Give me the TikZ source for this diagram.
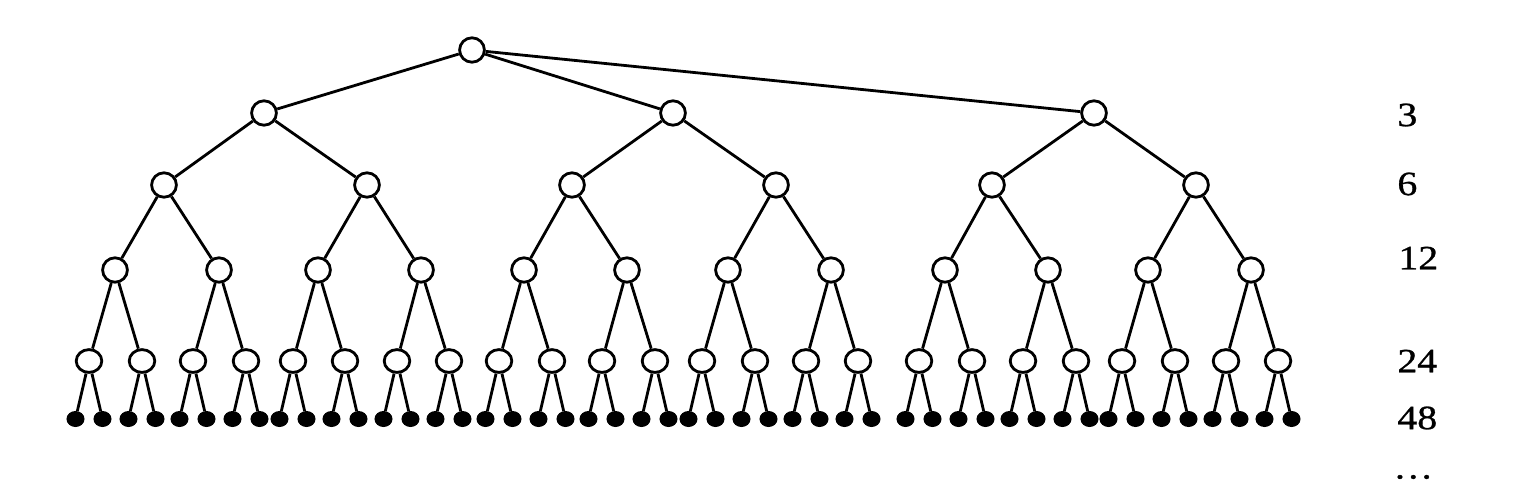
\documentclass[tikz,border=0pt]{standalone}
\usepackage{fontspec}
\setmainfont{Liberation Serif}
\newfontfamily\labfont[FakeBold=0.8]{Liberation Serif}
\usetikzlibrary{shapes.geometric}
\begin{document}
\begin{tikzpicture}[x=0.5pt,y=-0.5pt,
  inode/.style={ellipse,draw,line width=1.4pt,inner sep=0pt,minimum width=12.4pt,minimum height=12.2pt},
  lnode/.style={ellipse,draw,line width=1.4pt,inner sep=0pt,minimum width=12.8pt,minimum height=11.4pt},
  leaf/.style={ellipse,draw,fill=black,line width=1pt,inner sep=0pt,minimum width=8pt,minimum height=7pt},
  edge/.style={line width=1.4pt},
  lab/.style={anchor=west,inner sep=0pt,font=\labfont\fontsize{17}{20}\selectfont}]
\useasboundingbox (0,0) rectangle (1514,502);
% nodes
\node[inode] (r) at (472,50) {};
\foreach \x [count=\i] in {264,673,1094}
  \node[inode] (a\i) at (\x,113) {};
\foreach \x [count=\i] in {164,367,572,776,992,1196}
  \node[inode] (b\i) at (\x,185) {};
\foreach \x [count=\i] in {115,219,318,421,524,627,728,831,945,1048,1148,1251}
  \node[inode] (c\i) at (\x,270) {};
\foreach \x [count=\i] in {89,142,193,246,293,345,397,449,499,552,602,655,702,755,806,858,919,972,1023,1076,1122,1175,1226,1278}
  \node[lnode] (d\i) at (\x,361) {};
\foreach \x [count=\i] in {89,142,193,246,293,345,397,449,499,552,602,655,702,755,806,858,919,972,1023,1076,1122,1175,1226,1278}{
  \pgfmathtruncatemacro\j{2*\i-1}
  \pgfmathtruncatemacro\k{2*\i}
  \node[leaf] (e\j) at (\x-13.5,419) {};
  \node[leaf] (e\k) at (\x+13.5,419) {};
}
% edges
\foreach \i in {1,2,3}
  \draw[edge] (r) -- (a\i);
\foreach \i in {1,...,6}{
  \pgfmathtruncatemacro\p{(\i+1)/2}
  \draw[edge] (a\p) -- (b\i);
}
\foreach \i in {1,...,12}{
  \pgfmathtruncatemacro\p{(\i+1)/2}
  \draw[edge] (b\p) -- (c\i);
}
\foreach \i in {1,...,24}{
  \pgfmathtruncatemacro\p{(\i+1)/2}
  \draw[edge] (c\p) -- (d\i);
}
\foreach \i in {1,...,48}{
  \pgfmathtruncatemacro\p{(\i+1)/2}
  \draw[edge] (d\p) -- (e\i);
}
% labels
\node[lab] (l1) at (1397,115) {\scalebox{1.17}[1]{3}};
\node[lab] (l2) at (1397,184) {\scalebox{1.17}[1]{6}};
\node[lab] (l3) at (1398,258) {\scalebox{1.17}[1]{12}};
\node[lab] (l4) at (1397,361) {\scalebox{1.17}[1]{24}};
\node[lab] (l5) at (1397,418) {\scalebox{1.17}[1]{48}};
\node[lab] (l6) at (1393,477) {\scalebox{1.17}[1]{\ldots}};
\end{tikzpicture}
\end{document}
